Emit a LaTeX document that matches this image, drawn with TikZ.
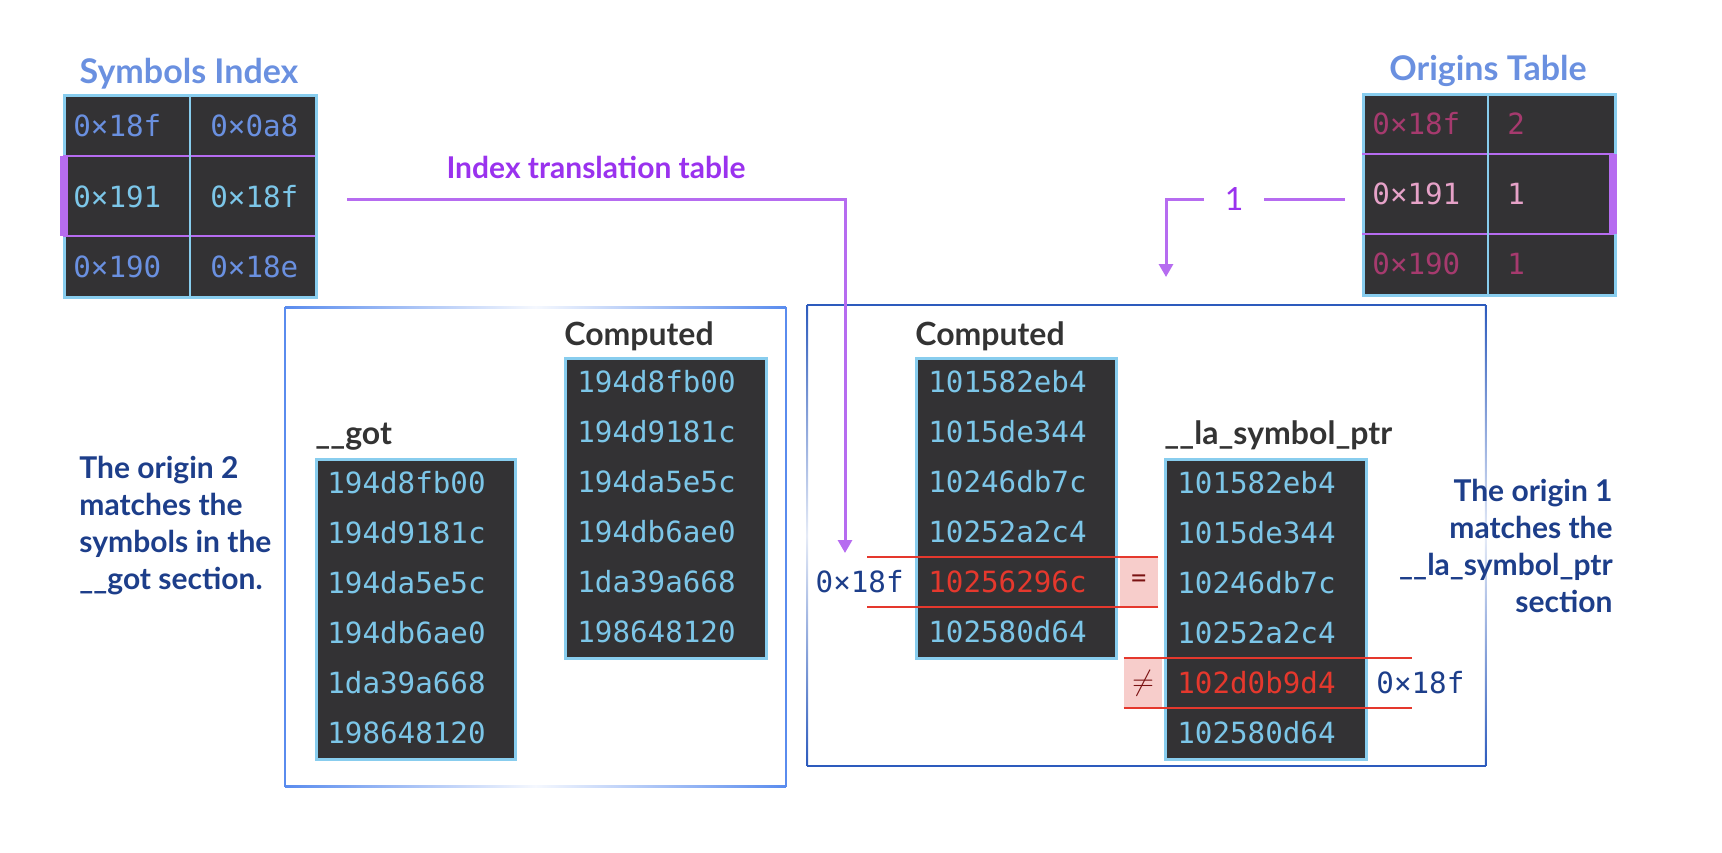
\documentclass[tikz,border=0pt]{standalone}
\usepackage{fontspec}
\setmainfont{Lato}
\setmonofont{DejaVu Sans Mono}
\usetikzlibrary{arrows.meta,positioning,calc}
\definecolor{symInk}{HTML}{333234}
\definecolor{symCell}{HTML}{88CDEE}
\definecolor{symHex}{HTML}{7CC6E8}
\definecolor{symBlue}{HTML}{6A90E0}
\definecolor{symPurple}{HTML}{B66CF0}
\definecolor{symViolet}{HTML}{9A32EE}
\definecolor{symPlum}{HTML}{A63A6E}
\definecolor{symRose}{HTML}{E6A2C8}
\definecolor{symNavy}{HTML}{1D3E8A}
\definecolor{symRed}{HTML}{E5382D}
\definecolor{symBlush}{HTML}{F7CDCB}
\definecolor{symWine}{HTML}{7A1212}
\definecolor{symFrame}{HTML}{5A8CEE}
\definecolor{symFrameDk}{HTML}{2D5BBD}
\definecolor{symLabel}{HTML}{333333}

\begin{document}
\begin{tikzpicture}[x=0.5pt,y=-0.5pt,font=\bfseries\fontsize{15}{18}\selectfont]
  \tikzset{
    memtable/.style={draw=symCell,line width=1.5pt,fill=symInk,inner sep=0pt,anchor=north west},
    hexval/.style={font=\ttfamily\mdseries\fontsize{14.6}{17}\selectfont,text=symHex,inner sep=0pt,anchor=west},
    caption/.style={font=\bfseries\fontsize{16}{18}\selectfont,text=symLabel,inner sep=0pt,anchor=base west},
    title/.style={font=\bfseries\fontsize{17}{19}\selectfont,text=symBlue,inner sep=0pt},
    note/.style={font=\bfseries\fontsize{15}{18.5}\selectfont,text=symNavy,inner sep=0pt},
    flow/.style={symPurple,line width=1.5pt,-{Triangle[width=7pt,length=6.5pt]}},
    hitline/.style={symRed,line width=1pt},
    flag/.style={fill=symBlush,text=symWine,inner sep=0pt,minimum width=19pt,minimum height=25pt,font=\mdseries\fontsize{15}{18}\selectfont},
    divider/.style={symCell,line width=1pt},
    picked/.style={symPurple,line width=1pt}
  }
  \useasboundingbox (0,0) rectangle (1722,852);

  % section frames
  \node[anchor=north west,inner sep=0pt,minimum width=250pt,minimum height=239.5pt] (gotframe) at (285,307) {};
  \shade[left color=symFrame,right color=symFrame,middle color=symFrame!6] ([yshift=0.5pt]gotframe.north west) rectangle ([yshift=-0.5pt]gotframe.north east);
  \shade[left color=symFrame,right color=symFrame,middle color=symFrame!6] ([yshift=0.5pt]gotframe.south west) rectangle ([yshift=-0.5pt]gotframe.south east);
  \fill[symFrame] ([xshift=-0.5pt]gotframe.north west) rectangle ([xshift=0.5pt]gotframe.south west);
  \fill[symFrame] ([xshift=-0.5pt]gotframe.north east) rectangle ([xshift=0.5pt]gotframe.south east);

  \node[anchor=north west,inner sep=0pt,minimum width=339pt,minimum height=230pt] (laframe) at (807,305) {};
  \shade[top color=symFrameDk,bottom color=symFrameDk,middle color=symFrameDk!12] ([xshift=-0.5pt]laframe.north west) rectangle ([xshift=0.5pt]laframe.south west);
  \shade[top color=symFrameDk,bottom color=symFrameDk,middle color=symFrameDk!12] ([xshift=-0.5pt]laframe.north east) rectangle ([xshift=0.5pt]laframe.south east);
  \fill[symFrameDk] ([yshift=0.5pt]laframe.north west) rectangle ([yshift=-0.5pt]laframe.north east);
  \fill[symFrameDk] ([yshift=0.5pt]laframe.south west) rectangle ([yshift=-0.5pt]laframe.south east);

  % symbols index
  \node[title] (symtitle) at (189,74) {Symbols Index};
  \node[memtable,minimum width=126pt,minimum height=101pt] (symidx) at (63,94) {};
  \draw[picked] (63,156) -- (315,156) (63,236) -- (315,236);
  \draw[divider] (190,94) -- (190,296);
  \fill[symPurple] (60,156) rectangle (68,236);
  \foreach \ka/\kb/\ink [count=\r] in {0×18f/0×0a8/symBlue,0×191/0×18f/symHex,0×190/0×18e/symBlue}{
    \node[hexval,text=\ink] (sym-\r-a) at (73,{55.5+70.5*\r}) {\ka};
    \node[hexval,text=\ink] (sym-\r-b) at (210,{55.5+70.5*\r}) {\kb};
  }

  % origins table
  \node[title] (origtitle) at (1488,71) {Origins Table};
  \node[memtable,minimum width=126pt,minimum height=100.5pt] (origtab) at (1362,93) {};
  \draw[picked] (1362,154) -- (1614,154) (1362,234) -- (1614,234);
  \draw[divider] (1488,93) -- (1488,294);
  \fill[symPurple] (1609,154) rectangle (1617,234);
  \foreach \ka/\kb/\ink [count=\r] in {0×18f/2/symPlum,0×191/1/symRose,0×190/1/symPlum}{
    \node[hexval,text=\ink] (orig-\r-a) at (1372,{54+70*\r}) {\ka};
    \node[hexval,text=\ink] (orig-\r-b) at (1507,{54+70*\r}) {\kb};
  }

  % __got side
  \node[memtable,minimum width=99.5pt,minimum height=150pt] (got) at (315,458) {};
  \node[caption] (got-cap) at ($(got.north west)+(0,-14)$) {\_\_got};
  \foreach \val [count=\i] in {194d8fb00,194d9181c,194da5e5c,194db6ae0,1da39a668,198648120}
    \node[hexval] (got-\i) at (327,{433+50*\i}) {\val};

  \node[memtable,minimum width=100.5pt,minimum height=150pt] (cmpA) at (564,357) {};
  \node[caption] (cmpA-cap) at ($(cmpA.north west)+(0,-12)$) {Computed};
  \foreach \val [count=\i] in {194d8fb00,194d9181c,194da5e5c,194db6ae0,1da39a668,198648120}
    \node[hexval] (cmpA-\i) at (577,{332+50*\i}) {\val};

  % __la_symbol_ptr side
  \node[memtable,minimum width=100pt,minimum height=150pt] (cmpB) at (915,357) {};
  \node[caption] (cmpB-cap) at ($(cmpB.north west)+(0,-12)$) {Computed};
  \foreach \val/\ink [count=\i] in {101582eb4/symHex,1015de344/symHex,10246db7c/symHex,10252a2c4/symHex,10256296c/symRed,102580d64/symHex}
    \node[hexval,text=\ink] (cmpB-\i) at (928,{332+50*\i}) {\val};

  \node[memtable,minimum width=100.5pt,minimum height=150pt] (laptr) at (1164,458) {};
  \node[caption] (laptr-cap) at ($(laptr.north west)+(0,-14)$) {\_\_la\_symbol\_ptr};
  \foreach \val/\ink [count=\i] in {101582eb4/symHex,1015de344/symHex,10246db7c/symHex,10252a2c4/symHex,102d0b9d4/symRed,102580d64/symHex}
    \node[hexval,text=\ink] (laptr-\i) at (1177,{433+50*\i}) {\val};

  % compared rows
  \path (cmpB.east |- cmpB-5) node[flag,anchor=west,xshift=0.75pt] (eqflag) {=};
  \draw[hitline] (eqflag.north east) -- ++(-145.5pt,0pt);
  \draw[hitline] (eqflag.south east) -- ++(-145.5pt,0pt);
  \path (laptr.west |- laptr-5) node[flag,anchor=east,xshift=-0.75pt] (neflag) {$\neq$};
  \draw[hitline] (neflag.north west) -- ++(144pt,0pt);
  \draw[hitline] (neflag.south west) -- ++(144pt,0pt);

  \node[hexval,text=symNavy,left=12pt of cmpB-5] (hexA) {0×18f};
  \node[hexval,text=symNavy,right=20pt of laptr-5] (hexB) {0×18f};

  % lookups
  \coordinate (idx-end) at (845,553);
  \draw[flow] ([xshift=14.5pt,yshift=-1.5pt]symidx.east) -| node[pos=0.25,above=6.5pt,text=symViolet,font=\bfseries\fontsize{15}{17}\selectfont] (idx-lbl) {Index translation table} (idx-end);
  \coordinate (orig-end) at (1166,277);
  \draw[flow] ([xshift=-8.5pt,yshift=-2pt]origtab.west) -| node[pos=0.31,fill=white,inner ysep=2pt,minimum width=30pt,text=symViolet,font=\mdseries\fontsize{16}{18}\selectfont] (orig-lbl) {1} (orig-end);

  % notes
  \node[note,anchor=north west,align=left] (gotnote) at (79,456) {The origin 2\\matches the\\symbols in the\\\_\_got section.};
  \node[note,anchor=north east,align=right] (lanote) at (1613,479) {The origin 1\\matches the\\\_\_la\_symbol\_ptr\\section};
\end{tikzpicture}
\end{document}
